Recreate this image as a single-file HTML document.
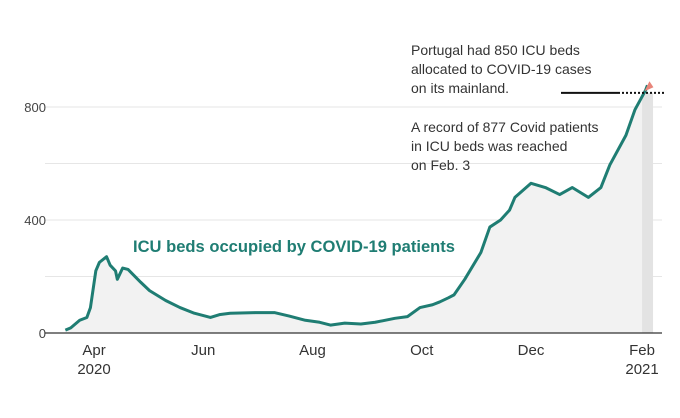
<!DOCTYPE html>
<html><head><meta charset="utf-8">
<style>
body{margin:0;background:#fff;}
svg{display:block;font-family:"Liberation Sans",sans-serif;}
</style></head>
<body>
<svg id="chart" width="680" height="418" viewBox="0 0 680 418" xmlns="http://www.w3.org/2000/svg"></svg>
<script>
// day offsets since 2020-03-01
const days = [15,18,23,27,29,32,34,38,40,43,44,47,50,57,62,71,79,87,96,101,107,121,132,140,149,157,163,171,180,188,199,206,213,220,224,229,232,238,247,252,258,263,266,275,283,291,298,307,314,319,328,333,336,339,340];
const values = [10,18,45,55,90,220,250,270,240,220,190,230,225,180,150,115,90,70,55,65,70,72,72,60,45,38,28,35,32,38,52,58,90,100,110,125,135,190,285,375,400,435,480,530,515,490,515,480,515,595,700,790,825,860,877];
const yTicks = [0,400,800];
const yGrid = [0,200,400,600,800];
const xTickDays = [31,92,153,214,275,337];
const xTickLabels = ["Apr","Jun","Aug","Oct","Dec","Feb"];
const xYearLabels = ["2020","","","","","2021"];
const capacity = 850;

const NS="http://www.w3.org/2000/svg";
const svg=document.getElementById('chart');
const x=d=>38.5+d*1.791;
const y=v=>333-v*113/400;
function mk(t,a,p){const e=document.createElementNS(NS,t);for(const k in a)e.setAttribute(k,a[k]);(p||svg).appendChild(e);return e;}

yGrid.forEach(v=>{
  const g=mk('line',{x1:45,x2:662,y1:y(v),y2:y(v),stroke:'#e6e6e6','stroke-width':1});
  
  
});
yTicks.forEach(v=>{
  const t=mk('text',{x:46,y:y(v)+5,'text-anchor':'end','font-size':13,fill:'#444'});
  t.textContent=v;
  
  
});
let pts=days.map((d,i)=>x(d)+','+y(values[i])).join(' ');
const area=mk('polygon',{points:x(days[0])+','+y(0)+' '+pts+' '+x(days[days.length-1])+','+y(0),fill:'#f2f2f2'});


const band=mk('rect',{x:x(337),y:y(capacity),width:11,height:y(0)-y(capacity),fill:'#e3e3e3'});


const ax=mk('line',{x1:45,x2:662,y1:y(0),y2:y(0),stroke:'#333','stroke-width':1.2});


const ln=mk('polyline',{points:pts,fill:'none',stroke:'#1f7d73','stroke-width':3,'stroke-linejoin':'round'});


const c1=mk('line',{x1:561,x2:618,y1:y(capacity),y2:y(capacity),stroke:'#111','stroke-width':2});


const c2=mk('line',{x1:618,x2:666,y1:y(capacity),y2:y(capacity),stroke:'#111','stroke-width':2,'stroke-dasharray':'2,2'});


const lx=x(days[days.length-1]), ly=y(values[values.length-1]);
const mkr=mk('polygon',{points:(lx-3)+','+(ly+6)+' '+(lx+2)+','+(ly-4)+' '+(lx+6)+','+(ly+2),fill:'#e8857a'});


xTickDays.forEach((d,i)=>{
  const t=mk('text',{x:x(d),y:355,'text-anchor':'middle','font-size':15,fill:'#333'});
  t.textContent=xTickLabels[i];
  
  
  if(xYearLabels[i]){
    const t2=mk('text',{x:x(d),y:374,'text-anchor':'middle','font-size':15,fill:'#333'});
    t2.textContent=xYearLabels[i];
    
    
  }
});
const sl=mk('text',{x:133,y:252,'font-size':16.5,'font-weight':'bold',fill:'#1f7d73',textLength:322,lengthAdjust:'spacingAndGlyphs'});
sl.textContent='ICU beds occupied by COVID-19 patients';


[['Portugal had 850 ICU beds',55],['allocated to COVID-19 cases',74],['on its mainland.',93],['A record of 877 Covid patients',132],['in ICU beds was reached',151],['on Feb. 3',170]].forEach(([s,yy],i)=>{
  const t=mk('text',{x:411,y:yy,'font-size':14,fill:'#333'});
  t.textContent=s;
  
  
});
</script>
</body></html>
